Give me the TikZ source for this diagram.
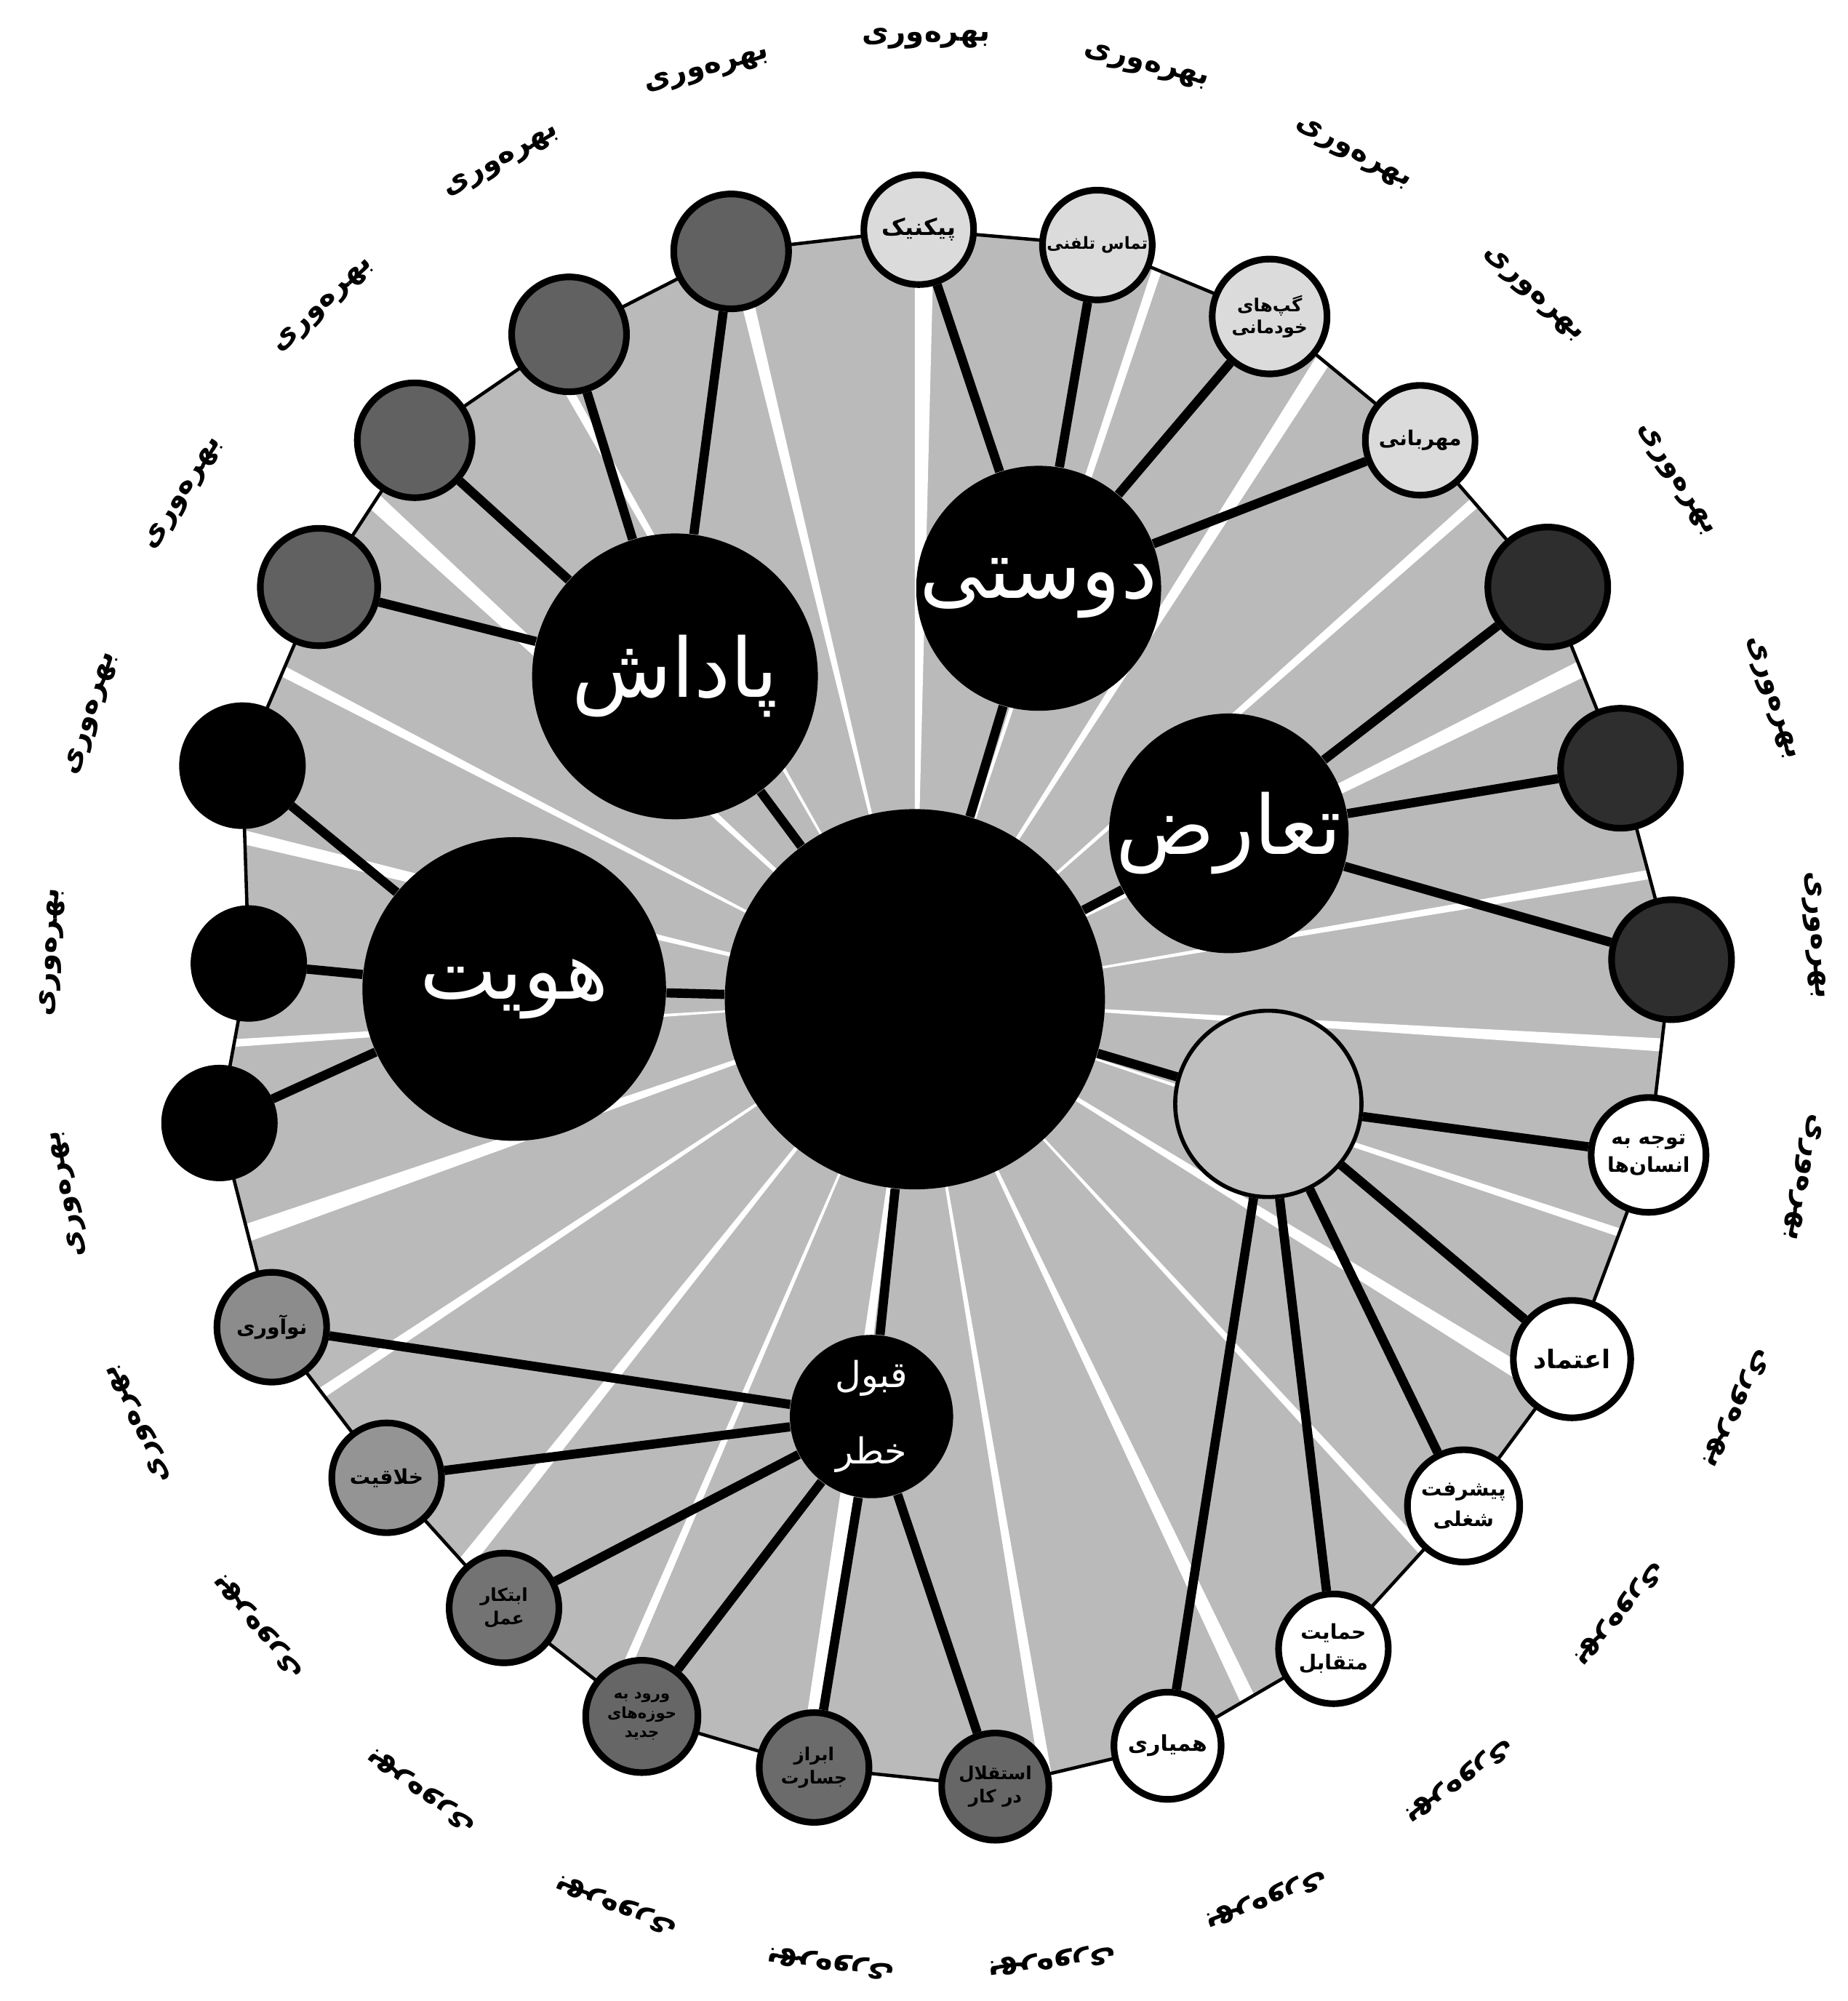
\documentclass[tikz,border=0pt]{standalone}
\usepackage{fontspec}
\newfontfamily\arabicfont[Script=Arabic]{DejaVu Sans}
\TeXXeTstate=1
\usetikzlibrary{backgrounds}
\newcommand{\fa}[1]{{\arabicfont\beginR #1\endR}}
\tikzset{
  core/.style={circle,fill=black,inner sep=0pt,minimum size=#1*0.998pt},
  hub/.style={circle,fill=black,text=white,inner sep=0pt,align=center,minimum size=#1*0.998pt,font=\fontsize{32}{40}\selectfont},
  leaf/.style={circle,draw,line width=2.6pt,inner sep=0pt,align=center,minimum size=#1*0.998pt,font=\fontsize{9}{11}\selectfont\bfseries},
  dk/.style={fill=black!62},
  lt/.style={fill=black!14},
  vdk/.style={fill=black!82},
  wh/.style={fill=white},
  md/.style={fill=black!48},
  bk/.style={fill=black},
  spoke/.style={line width=3.6pt},
  rim/.style={line width=1.3pt,line join=round},
  outlbl/.style={inner sep=0pt,font=\fontsize{11.5}{13}\selectfont\bfseries}
}

\begin{document}
\begin{tikzpicture}[x=0.17541mm,y=-0.17541mm]
\useasboundingbox (0,0) rectangle (1448,1568);
\node[core=149] (cen) at (717,783) {};
\node[hub=119] (hov) at (403,775) {\fa{هویت}};
\node[hub=112] (pad) at (529,530) {\fa{پاداش}};
\node[hub=96] (dus) at (814,461) {\fa{دوستی}};
\node[hub=84] (taz) at (963,653) {\fa{تعارض}};
\node[hub=73,fill=black!25,draw,line width=1.6pt] (hmk) at (994,865) {};
\node[hub=64,font=\fontsize{14}{26}\selectfont] (ris) at (683,1110) {\fa{قبول}\\[4pt]\fa{خطر}};
\node[leaf=46,dk] (a1) at (250,460) {};
\node[leaf=45,dk] (a2) at (325,345) {};
\node[leaf=45,dk] (a3) at (446,262) {};
\node[leaf=45,dk] (a4) at (573,197) {};
\node[leaf=43,lt] (b1) at (720,180) {\fa{پیکنیک}};
\node[leaf=43,lt,font=\fontsize{6.5}{8}\selectfont\bfseries] (b2) at (860,192) {\fa{تماس تلفنی}};
\node[leaf=45,lt,font=\fontsize{7}{8.5}\selectfont\bfseries] (b3) at (995,248) {\fa{گپ‌های}\\\fa{خودمانی}};
\node[leaf=43,lt,font=\fontsize{8}{10}\selectfont\bfseries] (b4) at (1113,345) {\fa{مهربانی}};
\node[leaf=47,vdk] (c1) at (1213,460) {};
\node[leaf=47,vdk] (c2) at (1270,602) {};
\node[leaf=47,vdk] (c3) at (1310,752) {};
\node[leaf=45,wh,font=\fontsize{8}{11}\selectfont\bfseries] (d1) at (1292,905) {\fa{توجه به}\\\fa{انسان‌ها}};
\node[leaf=46,wh,font=\fontsize{10}{12}\selectfont\bfseries] (d2) at (1232,1065) {\fa{اعتماد}};
\node[leaf=44,wh,font=\fontsize{8}{12}\selectfont\bfseries] (d3) at (1147,1180) {\fa{پیشرفت}\\\fa{شغلی}};
\node[leaf=43,wh,font=\fontsize{8}{12}\selectfont\bfseries] (d4) at (1045,1292) {\fa{حمایت}\\\fa{متقابل}};
\node[leaf=42,wh,font=\fontsize{8.5}{10}\selectfont\bfseries] (d5) at (915,1368) {\fa{همیاری}};
\node[leaf=42,md,fill=black!60,font=\fontsize{7}{9}\selectfont\bfseries] (e1) at (780,1400) {\fa{استقلال}\\\fa{در کار}};
\node[leaf=43,md,fill=black!58,font=\fontsize{7}{9}\selectfont\bfseries] (e2) at (638,1385) {\fa{ابراز}\\\fa{جسارت}};
\node[leaf=44,md,fill=black!60,font=\fontsize{6}{7.5}\selectfont\bfseries] (e3) at (503,1345) {\fa{ورود به}\\\fa{حوزه‌های}\\\fa{جدید}};
\node[leaf=43,md,fill=black!55,font=\fontsize{7}{9}\selectfont\bfseries] (e4) at (395,1260) {\fa{ابتکار}\\\fa{عمل}};
\node[leaf=43,md,fill=black!42,font=\fontsize{8}{10}\selectfont\bfseries] (e5) at (303,1158) {\fa{خلاقیت}};
\node[leaf=43,md,fill=black!45,font=\fontsize{8}{10}\selectfont\bfseries] (e6) at (213,1040) {\fa{نوآوری}};
\node[leaf=47,bk] (f1) at (190,600) {};
\node[leaf=43,bk] (f2) at (195,755) {};
\node[leaf=43,bk] (f3) at (172,880) {};
\def\ringpath{(f3.center)--(f2.center)--(f1.center)--(a1.center)--(a2.center)--(a3.center)--(a4.center)--(b1.center)--(b2.center)--(b3.center)--(b4.center)--(c1.center)--(c2.center)--(c3.center)--(d1.center)--(d2.center)--(d3.center)--(d4.center)--(d5.center)--(e1.center)--(e2.center)--(e3.center)--(e4.center)--(e5.center)--(e6.center)--cycle}
\begin{scope}[on background layer]
\fill[black!27] \ringpath;
\begin{scope}
\clip \ringpath;
\foreach \a/\w in {3/14,18/9,31/18,47/10,64/16,80/12,97/22,113/10,128/16,146/12,160/20,176/9,193/16,207/12,222/18,240/10,256/14,270/20,288/10,302/16,318/12,333/18,350/10}
  \fill[white] (717,783) -- ++(\a:800) -- ++(\a+90:\w) -- cycle;
\end{scope}
\draw[rim] \ringpath;
\draw[spoke] (cen)--(hov); \draw[spoke] (cen)--(pad); \draw[spoke] (cen)--(dus);
\draw[spoke] (cen)--(taz); \draw[spoke] (cen)--(hmk); \draw[spoke] (cen)--(ris);
\foreach \n in {f1,f2,f3} \draw[spoke] (hov)--(\n);
\foreach \n in {a1,a2,a3,a4} \draw[spoke] (pad)--(\n);
\foreach \n in {b1,b2,b3,b4} \draw[spoke] (dus)--(\n);
\foreach \n in {c1,c2,c3} \draw[spoke] (taz)--(\n);
\foreach \n in {d1,d2,d3,d4,d5} \draw[spoke] (hmk)--(\n);
\foreach \n in {e1,e2,e3,e4,e5,e6} \draw[spoke] (ris)--(\n);
\end{scope}
\foreach \i in {0,...,24}{
  \pgfmathsetmacro\ang{90.5+14.4*\i}
  \pgfmathsetmacro\lx{732+692*cos(\ang)}
  \pgfmathsetmacro\ly{787-757*sin(\ang)}
  \node[outlbl,rotate=\ang-90] (out\i) at (\lx,\ly) {\fa{بهره^^^^200cوری}};
}
\end{tikzpicture}
\end{document}
